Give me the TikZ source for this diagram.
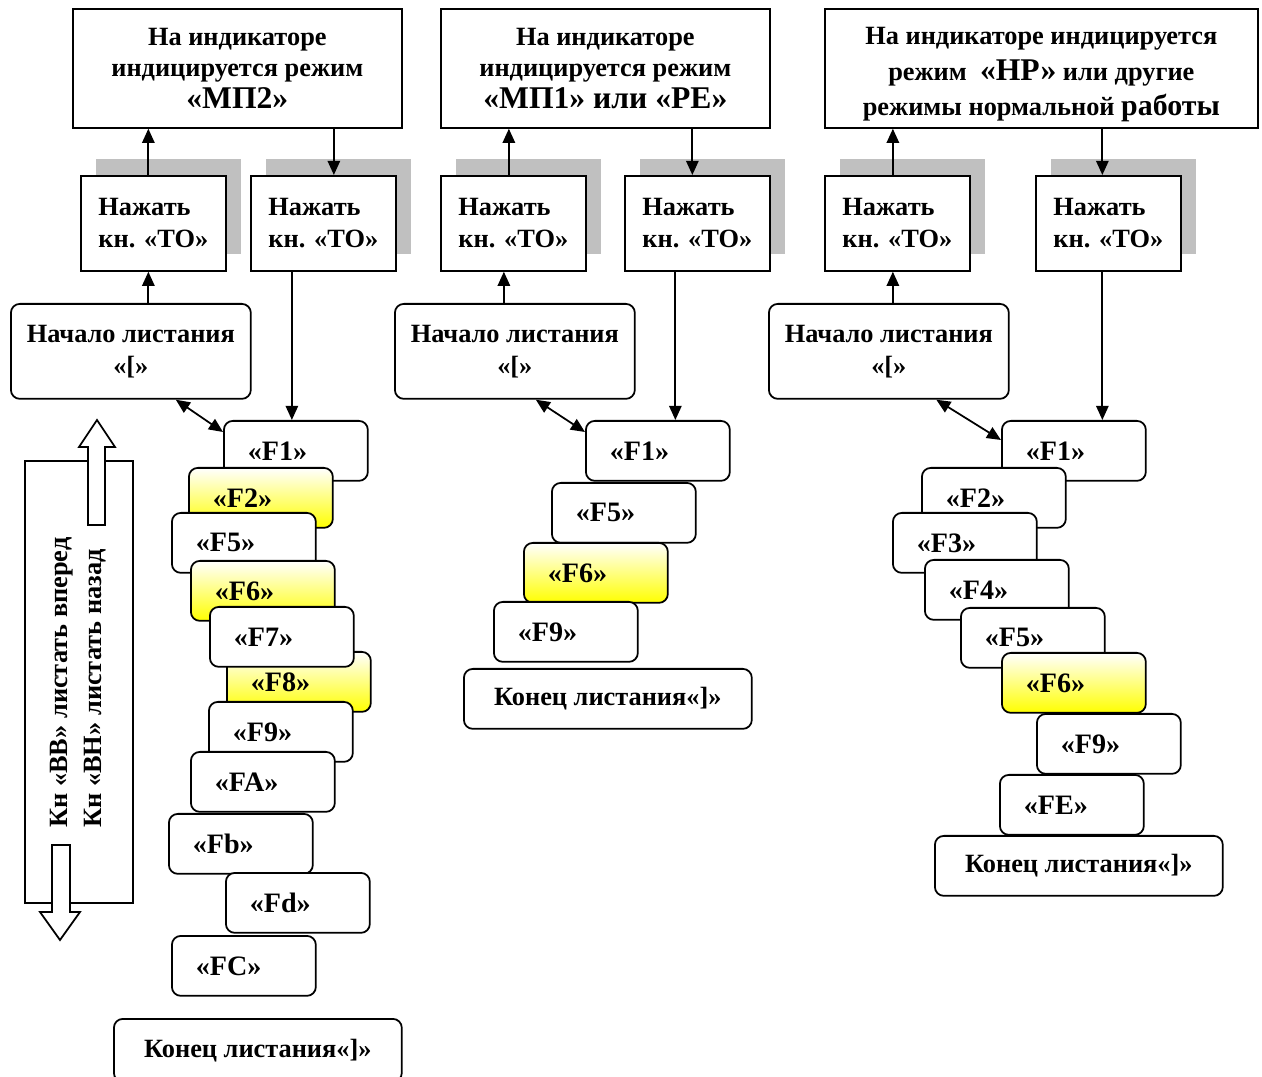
\documentclass[tikz,border=0pt]{standalone}
\usepackage{fontspec}
\setmainfont{Liberation Serif}
\usepackage{xcolor}
\usetikzlibrary{arrows.meta,shadows}
\definecolor{cgray}{RGB}{192,192,192}
\definecolor{cyellow}{RGB}{255,255,0}

\begin{document}
\begin{tikzpicture}[x=0.02cm,y=-0.02cm,
  every node/.style={font=\bfseries\fontsize{15}{18}\selectfont},
  modebox/.style={draw,line width=1pt,fill=white,minimum height=2.38cm,align=center,anchor=north west,inner sep=0pt},
  keybox/.style={draw,line width=1pt,fill=white,minimum width=2.9cm,minimum height=1.9cm,align=left,anchor=north west,inner sep=0pt,
    drop shadow={shadow xshift=0.3cm,shadow yshift=0.34cm,fill=cgray,opacity=1}},
  startbox/.style={draw,line width=1pt,fill=white,rounded corners=0.18cm,minimum width=4.8cm,minimum height=1.9cm,align=center,anchor=north west,inner sep=0pt},
  fbox/.style={draw,line width=1pt,fill=white,rounded corners=0.18cm,minimum height=1.2cm,text width=1.92cm,inner xsep=0.48cm,inner ysep=0pt,anchor=north west,font=\bfseries\fontsize{16}{18}\selectfont},
  fhi/.style={fbox,top color=white,bottom color=cyellow},
  endbox/.style={draw,line width=1pt,fill=white,rounded corners=0.18cm,minimum width=5.76cm,minimum height=1.2cm,anchor=north west,inner sep=0pt},
  arr/.style={line width=1pt,-{Triangle[length=8pt,width=7pt]}},
  darr/.style={line width=1pt,{Triangle[length=8pt,width=7pt]}-{Triangle[length=8pt,width=7pt]}}
]
\useasboundingbox (0,0) rectangle (1262,1077);

% indicator boxes
\node[modebox,minimum width=6.58cm] (t1) at (72,8) {На индикаторе\\индицируется режим\\{\fontsize{18}{20}\selectfont «МП2»}};
\node[modebox,minimum width=6.58cm] (t2) at (440,8) {На индикаторе\\индицируется режим\\{\fontsize{18}{20}\selectfont «МП1» или «РЕ»}};
\node[modebox,minimum width=8.66cm,font=\bfseries\fontsize{15}{20}\selectfont] (t3) at (824,8) {\rule{0pt}{17pt}На индикаторе индицируется\\режим \ {\fontsize{18}{20}\selectfont «НР»} или другие\\режимы нормальной {\fontsize{17}{20}\selectfont работы}};

% key boxes
\foreach \nm/\px in {p1/80, q1/250, p2/440, q2/624, p3/824, q3/1035}
  \node[keybox] (\nm) at (\px,175) {Нажать\\кн. «ТО»};

% start boxes
\foreach \nm/\px in {s1/10, s2/394, s3/768}
  \node[startbox] (\nm) at (\px,303) {Начало листания\\«[»};

% first column
\foreach \nm/\px/\py/\st in {1/223/420/fbox, 2/188/467/fhi, 5/171/512/fbox, 6/190/560/fhi,
    8/226/651/fhi, 7/209/606/fbox, 9/208/701/fbox, A/190/751/fbox, b/168/813/fbox,
    d/225/872/fbox, C/171/935/fbox}
  \node[\st] (a\nm) at (\px,\py) {«F\nm»};
\node[endbox,minimum height=1.26cm] (e1) at (113,1018) {Конец листания«]»};

% second column
\foreach \nm/\px/\py/\st in {1/585/420/fbox, 5/551/482/fbox, 6/523/542/fhi, 9/493/601/fbox}
  \node[\st] (b\nm) at (\px,\py) {«F\nm»};
\node[endbox] (e2) at (463,668) {Конец листания«]»};

% third column
\foreach \nm/\px/\py/\st in {1/1001/420/fbox, 2/921/467/fbox, 3/892/512/fbox, 4/924/559/fbox,
    5/960/607/fbox, 6/1001/652/fhi, 9/1036/713/fbox, E/999/774/fbox}
  \node[\st] (c\nm) at (\px,\py) {«F\nm»};
\node[endbox] (e3) at (934,835) {Конец листания«]»};

% scroll keys
\draw[line width=1pt] (25,461) rectangle (133,903);
\draw[line width=1pt,fill=white] (88,525) -- (88,447) -- (79,447) -- (97,420) -- (115,447) -- (105,447) -- (105,525) -- cycle;
\draw[line width=1pt,fill=white] (52,845) -- (52,912) -- (40,912) -- (60,940) -- (80,912) -- (70,912) -- (70,845) -- cycle;
\node[rotate=90,anchor=west,inner sep=0pt] (kv) at (62,828) {Кн «ВВ» листать вперед};
\node[rotate=90,anchor=west,inner sep=0pt] (kn) at (95,828) {Кн «ВН» листать назад};

% connectors
\draw[arr] ([xshift=-0.1cm]p1.north) -- ([xshift=-0.1cm]p1.north |- t1.south);
\draw[arr] ([xshift=0.21cm]q1.north |- t1.south) -- ([xshift=0.21cm]q1.north);
\draw[arr] ([xshift=-0.1cm]p1.south |- s1.north) -- ([xshift=-0.1cm]p1.south);
\draw[arr] ([xshift=-0.63cm]q1.south) -- ([xshift=-0.63cm]q1.south |- a1.north);
\draw[darr] ([xshift=0.9cm]s1.south) -- ([yshift=-0.24cm]a1.north west);

\draw[arr] ([xshift=-0.09cm]p2.north) -- ([xshift=-0.09cm]p2.north |- t2.south);
\draw[arr] ([xshift=-0.1cm]q2.north |- t2.south) -- ([xshift=-0.1cm]q2.north);
\draw[arr] ([xshift=-0.19cm]p2.south |- s2.north) -- ([xshift=-0.19cm]p2.south);
\draw[arr] ([xshift=-0.44cm]q2.south) -- ([xshift=-0.44cm]q2.south |- b1.north);
\draw[darr] ([xshift=0.42cm]s2.south) -- ([yshift=-0.24cm]b1.north west);

\draw[arr] ([xshift=-0.09cm]p3.north) -- ([xshift=-0.09cm]p3.north |- t3.south);
\draw[arr] ([xshift=-0.12cm]q3.north |- t3.south) -- ([xshift=-0.12cm]q3.north);
\draw[arr] ([xshift=-0.09cm]p3.south |- s3.north) -- ([xshift=-0.09cm]p3.south);
\draw[arr] ([xshift=-0.12cm]q3.south) -- ([xshift=-0.12cm]q3.south |- c1.north);
\draw[darr] ([xshift=0.95cm]s3.south) -- ([yshift=-0.4cm]c1.north west);

\end{tikzpicture}
\end{document}
